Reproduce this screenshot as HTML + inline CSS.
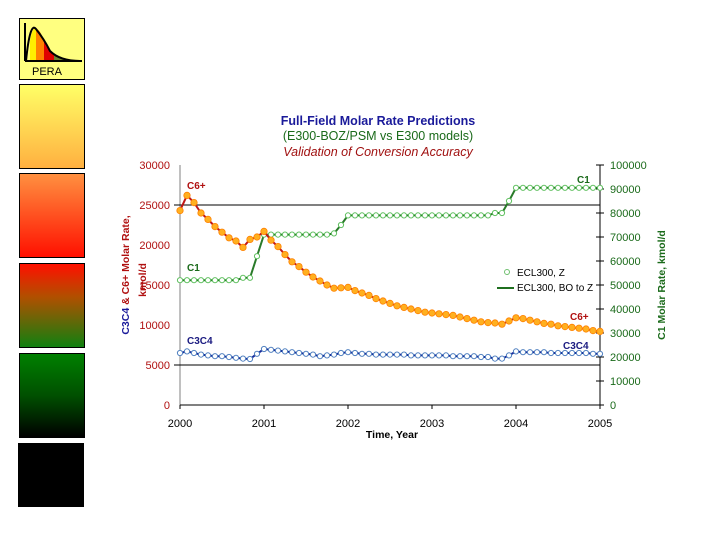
<!DOCTYPE html>
<html><head><meta charset="utf-8">
<style>
html,body{margin:0;padding:0;background:#fff;}
body{width:720px;height:540px;overflow:hidden;position:relative;font-family:"Liberation Sans",sans-serif;}
.box{position:absolute;left:19px;width:64px;border:1px solid #000;}
</style></head>
<body>
<div class="box" style="top:18px;height:60px;background:#ffff80;">
<svg width="64" height="60">
<path d="M5,42 L5,4" stroke="#000" stroke-width="2"/>
<path d="M10,42 L10,22 Q13,6 16,10 L16,42Z" fill="#ffee00"/>
<path d="M16,42 L16,10 Q20,10 24,22 L24,42Z" fill="#ff8000"/>
<path d="M24,42 L24,22 Q28,32 34,36 L34,42Z" fill="#e00000"/>
<path d="M34,42 L34,36 Q40,40 46,41 L46,42Z" fill="#708030"/>
<path d="M6,42 Q10,2 16,10 Q24,20 30,32 Q40,42 60,42" stroke="#000" stroke-width="2" fill="none"/>
<path d="M5,42 L62,42" stroke="#000" stroke-width="2"/>
<text x="12" y="56" font-size="11" fill="#000" font-family="Liberation Sans, sans-serif">PERA</text>
</svg></div>
<div class="box" style="top:84px;height:83px;background:linear-gradient(#ffff66,#ffb040);"></div>
<div class="box" style="top:173px;height:83px;background:linear-gradient(#ff9040,#ff1000);"></div>
<div class="box" style="top:263px;height:83px;background:linear-gradient(#ff1000,#b05000 40%,#108010);"></div>
<div class="box" style="top:353px;height:83px;background:linear-gradient(#008000,#005000 50%,#000);"></div>
<div class="box" style="top:443px;height:62px;background:#000;left:18px;"></div>

<svg id="chart" width="720" height="540" style="position:absolute;left:0;top:0">
<g font-family="Liberation Sans, sans-serif" font-weight="bold" font-size="12.5" text-anchor="middle">
<text x="378" y="125" fill="#1a1a9a">Full-Field Molar Rate Predictions</text>
<text x="378" y="140" fill="#1a6a1a" font-weight="normal">(E300-BOZ/PSM vs E300 models)</text>
<text x="378" y="156" fill="#a01010" font-weight="normal" font-style="italic">Validation of Conversion Accuracy</text>
</g>
<g id="axes"></g>
<g id="series"></g>
<g font-family="Liberation Sans, sans-serif" font-weight="bold" font-size="10">
<text x="187" y="189" fill="#b01010">C6+</text>
<text x="187" y="271" fill="#1a6a1a">C1</text>
<text x="187" y="344" fill="#1a1a80">C3C4</text>
<text x="577" y="183" fill="#1a6a1a">C1</text>
<text x="570" y="320" fill="#b01010">C6+</text>
<text x="563" y="349" fill="#1a1a80">C3C4</text>
</g>
<g font-family="Liberation Sans, sans-serif" font-size="10">
<circle cx="507" cy="272" r="2.5" fill="none" stroke="#70c070"/>
<text x="517" y="276" fill="#000">ECL300, Z</text>
<line x1="497" y1="288" x2="514" y2="288" stroke="#1f6f1f" stroke-width="2"/>
<text x="517" y="291" fill="#000">ECL300, BO to Z</text>
</g>
<g font-family="Liberation Sans, sans-serif" font-weight="bold" font-size="10.5">
<text transform="translate(129,275) rotate(-90)" text-anchor="middle"><tspan fill="#1a1a9a">C3C4</tspan><tspan fill="#b01010"> &amp; C6+ Molar Rate,</tspan></text>
<text transform="translate(146,280) rotate(-90)" text-anchor="middle" fill="#b01010">kmol/d</text>
<text transform="translate(665,285) rotate(-90)" text-anchor="middle" fill="#1a6a1a">C1 Molar Rate, kmol/d</text>
<text x="392" y="438" text-anchor="middle" fill="#000">Time, Year</text>
</g>
</svg>
<script>
const xTicks = [2000, 2001, 2002, 2003, 2004, 2005];
const yLeftTicks = [0, 5000, 10000, 15000, 20000, 25000, 30000];
const yRightTicks = [0, 10000, 20000, 30000, 40000, 50000, 60000, 70000, 80000, 90000, 100000];
const c6Values = [24300,26200,25300,24000,23200,22300,21600,20900,20500,19700,20700,21000,21700,20600,19800,18800,17900,17300,16600,16000,15500,15000,14600,14650,14700,14300,14000,13700,13300,13000,12700,12400,12200,12000,11800,11600,11500,11400,11300,11200,11000,10800,10600,10400,10300,10250,10100,10500,10900,10800,10600,10400,10200,10100,9900,9800,9700,9600,9500,9300,9200];
const c3c4Values = [6500,6700,6500,6300,6200,6100,6100,6000,5900,5800,5750,6400,7000,6900,6800,6700,6600,6500,6400,6300,6100,6200,6300,6500,6600,6500,6400,6400,6300,6300,6300,6300,6300,6200,6200,6200,6200,6200,6200,6100,6100,6100,6100,6000,6000,5800,5800,6200,6700,6600,6600,6600,6600,6500,6500,6500,6500,6500,6500,6400,6400];
const c1Values = [52000,52000,52000,52000,52000,52000,52000,52000,52000,53000,53000,62000,71000,71000,71000,71000,71000,71000,71000,71000,71000,71000,71500,75000,79000,79000,79000,79000,79000,79000,79000,79000,79000,79000,79000,79000,79000,79000,79000,79000,79000,79000,79000,79000,79000,80000,80000,85000,90500,90500,90500,90500,90500,90500,90500,90500,90500,90500,90500,90500,90500];

const X0=180, X1=600, YB=405, YT=165;
function xs(t){ return X0 + (t-2000)/5*(X1-X0); }
function yl(v){ return YB - v/30000*(YB-YT); }
function yr(v){ return YB - v/100000*(YB-YT); }
function mt(i){ return 2000 + i/12; }
const NS='http://www.w3.org/2000/svg';
function mk(tag, attrs, parent){ const e=document.createElementNS(NS,tag); for(const k in attrs) e.setAttribute(k,attrs[k]); parent.appendChild(e); return e; }
const ax=document.getElementById('axes'), se=document.getElementById('series');
const F='Liberation Sans, sans-serif';
// axes lines
let e;
e=mk('line',{x1:X0,y1:YT,x2:X0,y2:YB,stroke:'#808080','stroke-width':1},ax);


e=mk('line',{x1:X1,y1:YT,x2:X1,y2:YB,stroke:'#000','stroke-width':1},ax);


e=mk('line',{x1:X0,y1:YB,x2:X1,y2:YB,stroke:'#000','stroke-width':1},ax);


e=mk('line',{x1:X0-6,y1:yl(25000),x2:X1,y2:yl(25000),stroke:'#000','stroke-width':1},ax);


e=mk('line',{x1:X0-6,y1:yl(5000),x2:X1,y2:yl(5000),stroke:'#000','stroke-width':1},ax);


yLeftTicks.forEach(v=>{
  e=mk('text',{x:X0-10,y:yl(v)+4,'text-anchor':'end','font-size':11,'font-family':F,fill:'#b01010'},ax);
  e.textContent=v;
  
  
});
yRightTicks.forEach(v=>{
  e=mk('line',{x1:X1-4,y1:yr(v),x2:X1+4,y2:yr(v),stroke:'#000'},ax);
  
  
  e=mk('text',{x:X1+10,y:yr(v)+4,'text-anchor':'start','font-size':11,'font-family':F,fill:'#1a6a1a'},ax);
  e.textContent=v;
  
  
});
xTicks.forEach(v=>{
  e=mk('line',{x1:xs(v),y1:YB,x2:xs(v),y2:YB+4,stroke:'#000'},ax);
  
  
  e=mk('text',{x:xs(v),y:YB+22,'text-anchor':'middle','font-size':11,'font-family':F,fill:'#000'},ax);
  e.textContent=v;
  
  
});
function series(vals, yf, lineColor, name, markerFn){
  const pts=vals.map((v,i)=>xs(mt(i)).toFixed(1)+','+yf(v).toFixed(1)).join(' ');
  let l=mk('polyline',{points:pts,fill:'none',stroke:lineColor,'stroke-width':2},se);
  
  
  vals.forEach((v,i)=>{ markerFn(xs(mt(i)), yf(v)); });
}
series(c1Values, yr, '#2a7a2a', 'c1', (x,y)=>{
  const c=mk('circle',{cx:x,cy:y,r:2.6,fill:'#fff',stroke:'#60c060','stroke-width':1},se);
  
  
});
series(c6Values, yl, '#c01818', 'c6', (x,y)=>{
  const c=mk('circle',{cx:x,cy:y,r:3.2,fill:'#ffb020',stroke:'#ff8000','stroke-width':0.8},se);
  
  
});
series(c3c4Values, yl, '#1a2a9a', 'c3c4', (x,y)=>{
  const c=mk('circle',{cx:x,cy:y,r:2.6,fill:'#fff',stroke:'#5080c0','stroke-width':1},se);
  
  
});
</script>
</body></html>
